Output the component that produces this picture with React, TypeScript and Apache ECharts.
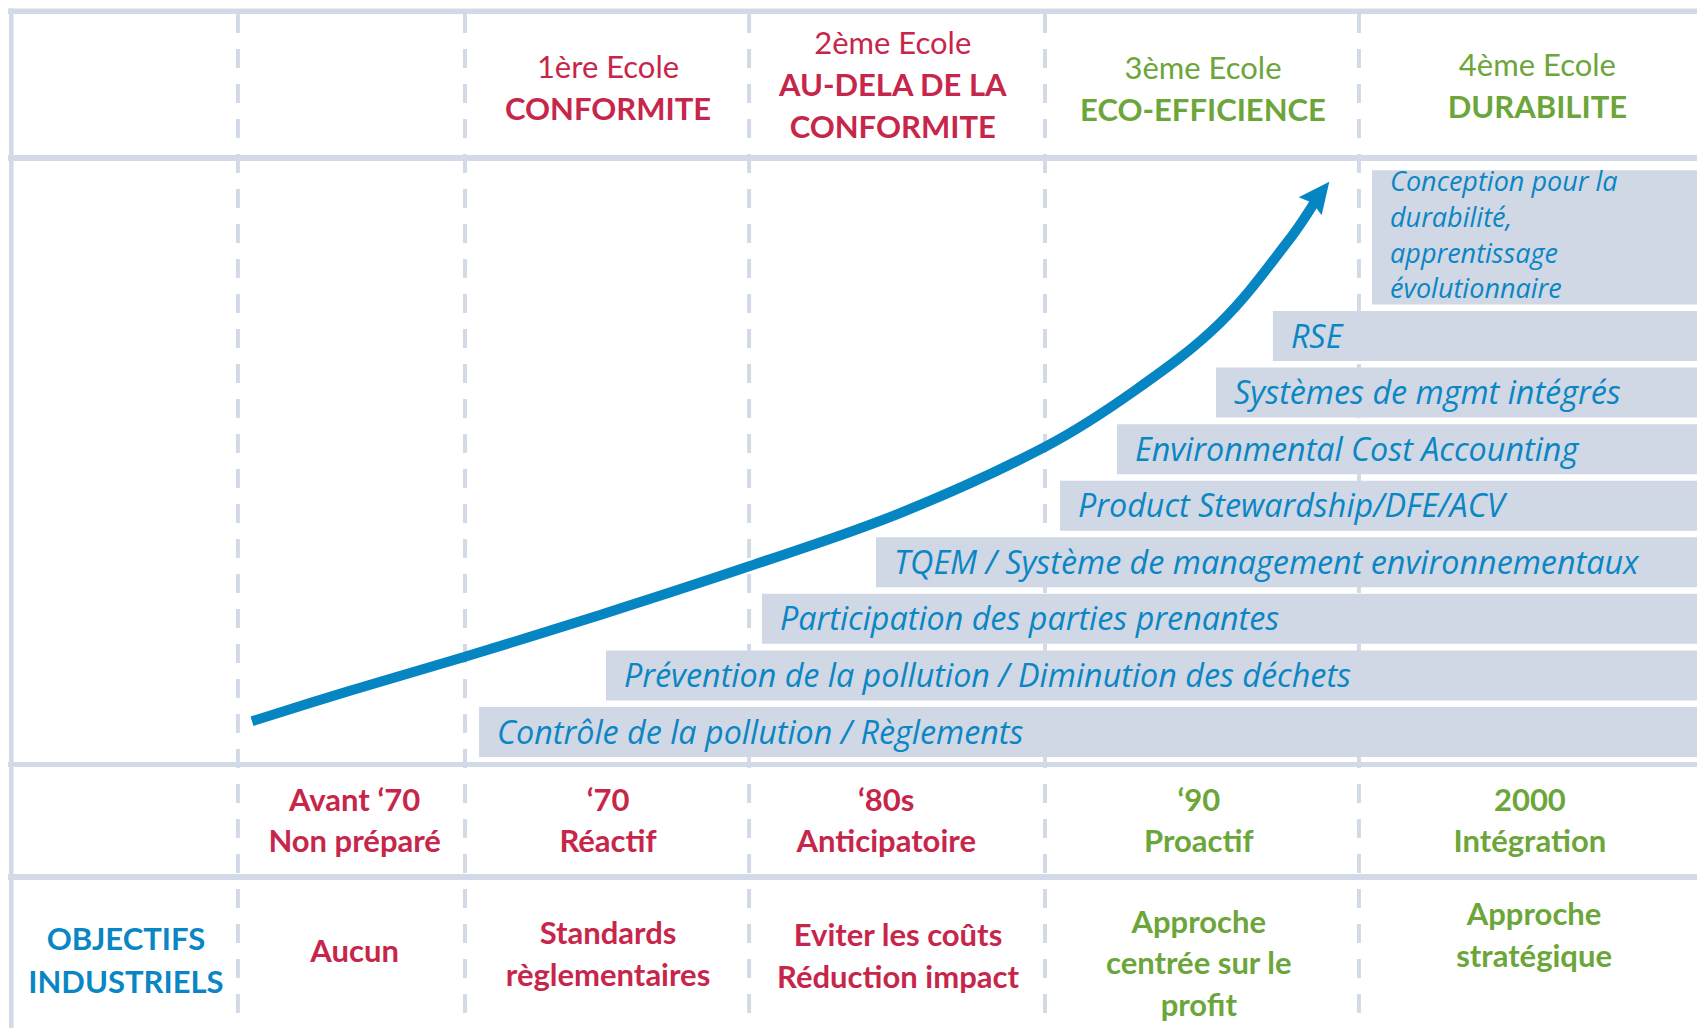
import React, { useEffect, useRef } from "react";
import * as echarts from "echarts";

// ---------------- data ----------------
const periodYears = ["Avant ‘70", "‘70", "‘80s", "‘90", "2000"];
const periodPostures = ["Non préparé", "Réactif", "Anticipatoire", "Proactif", "Intégration"];
// timeline position (0–100) where each period column starts, and where the last one ends
const periodStarts = [14.02, 27.4, 44.14, 61.58, 80.08];
const timelineEnd = 100.6;
const periodTone = ["red", "red", "red", "green", "green"];

const schoolOrdinals = ["", "1ère Ecole", "2ème Ecole", "3ème Ecole", "4ème Ecole"];
const schoolNames = ["", "CONFORMITE", "AU-DELA DE LA\nCONFORMITE", "ECO-EFFICIENCE", "DURABILITE"];

const objectivesTitle = "OBJECTIFS\nINDUSTRIELS";
const objectives = [
  "Aucun",
  "Standards\nrèglementaires",
  "Eviter les coûts\nRéduction impact",
  "Approche\ncentrée sur le\nprofit",
  "Approche\nstratégique",
];

const practices = [
  "Contrôle de la pollution / Règlements",
  "Prévention de la pollution / Diminution des déchets",
  "Participation des parties prenantes",
  "TQEM / Système de management environnementaux",
  "Product Stewardship/DFE/ACV",
  "Environmental Cost Accounting",
  "Systèmes de mgmt intégrés",
  "RSE",
  "Conception pour la\ndurabilité,\napprentissage\névolutionnaire",
];
const practiceStarts = [28.23, 35.71, 44.9, 51.62, 62.46, 65.82, 71.66, 75.01, 80.85];
const practiceLevels = [1, 2, 3, 4, 5, 6, 7, 8, 9];

const arrowX = [14.85, 20.62, 27.4, 35.36, 44.14, 53.04, 61.58, 66.94, 71.89, 75.96, 77.77];
const arrowLevel = [1.19, 1.73, 2.33, 3.07, 3.93, 4.87, 6.04, 7.05, 8.23, 9.7, 10.51];

// ---------------- layout & style ----------------
const W = 1697;
const H = 1028;
const LEVEL_PX = 56.57;
const LEVEL_MAX = 11;
const GRID_TOP = 732 - (LEVEL_MAX - 1) * LEVEL_PX;
const BAR_BAND = 50 / LEVEL_PX;

const LINE = "#D3DAE7";
const BAR_FILL = "#D0D7E5";
const RED = "#C7264B";
const GREEN = "#6CA63A";
const BLUE = "#0A86C4";
const ARROW = "#0685C3";
const FONT = "Lato, 'Open Sans', sans-serif";
const ITALIC_FONT = "'Open Sans', 'Noto Sans', sans-serif";
const FS = 31;

// per-cell text anchors (layout)
const HEADER_CY = [0, 86.5, 83.5, 88, 84.5];
const HEADER_DX = [0, 1, -4.3, 1, 4.3];
const PERIOD_CY = 819;
const PERIOD_DX = [3.2, 1, -10.8, -3.2, -3.2];
const OBJ_CY = [959, 950, 953, 955, 962, 934];
const OBJ_DX = [2, 3.2, 1, 1, -3.2, 1];
const LH = 42;

export default function App() {
  const ref = useRef<HTMLDivElement>(null);

  useEffect(() => {
    document.body.style.margin = "0";
    const chart = echarts.init(ref.current!, undefined, { renderer: "svg", width: W, height: H });

    chart.setOption({
      animation: false,
      grid: { left: 0, top: GRID_TOP, width: W, height: LEVEL_MAX * LEVEL_PX, containLabel: false },
      xAxis: { type: "value", min: 0, max: 100, show: false },
      yAxis: { type: "value", min: 0, max: LEVEL_MAX, show: false },
      series: [
        {
          type: "custom",
          z: 2,
          clip: false,
          data: practiceStarts.map((s, i) => [s, practiceLevels[i]]),
          renderItem: (params: any, api: any) => {
            const i = params.dataIndex;
            const start = api.value(0);
            const level = api.value(1);
            const [x0, yc] = api.coord([start, level]);
            const x1 = api.coord([100, level])[0];
            const bandPx = api.size([0, BAR_BAND])[1];
            const text = practices[i];
            const nLines = text.split("\n").length;
            const multi = nLines > 1;
            const clh = 35.7;
            const bottom = yc + bandPx / 2;
            const h = multi ? (nLines - 1) * clh + 27 : bandPx;
            const top = bottom - h;
            return {
              type: "group",
              children: [
                {
                  type: "rect",
                  shape: { x: x0, y: top, width: x1 - x0, height: h },
                  style: { fill: BAR_FILL },
                },
                {
                  type: "text",
                  style: {
                    text,
                    x: x0 + 18,
                    y: top + h / 2 - (multi ? 3 : 1.5),
                    align: "left",
                    verticalAlign: "middle",
                    fontFamily: ITALIC_FONT,
                    fontStyle: "italic",
                    fontSize: multi ? 27 : 32.3,
                    lineHeight: multi ? clh : LH,
                    fill: BLUE,
                  },
                },
              ],
            };
          },
        },
        {
          type: "line",
          z: 3,
          clip: false,
          smooth: 0.35,
          symbol: "none",
          showSymbol: true,
          lineStyle: { width: 10, color: ARROW, cap: "butt" },
          itemStyle: { color: ARROW },
          data: arrowX.map((x, i) =>
            i === arrowX.length - 1
              ? {
                  value: [x, arrowLevel[i]],
                  symbol: "path://M14,0L28,30L14,26L0,30Z",
                  symbolSize: [29, 31],
                  symbolRotate: -38,
                  itemStyle: { color: ARROW },
                }
              : [x, arrowLevel[i]]
          ),
        },
      ],
    });

    const px = (v: number) => chart.convertToPixel({ xAxisIndex: 0 }, v) as number;
    const bounds = [...periodStarts, timelineEnd].map(px);
    const centers = periodStarts.map((_, i) => (bounds[i] + bounds[i + 1]) / 2);

    const els: any[] = [];
    const rect = (x: number, y: number, w: number, h: number) =>
      els.push({ type: "rect", z: 0, shape: { x, y, width: w, height: h }, style: { fill: LINE } });

    const textLines = (
      cx: number,
      cy: number,
      lines: { t: string; bold: boolean }[],
      color: string,
      lh: number
    ) => {
      const n = lines.length;
      lines.forEach((ln, k) => {
        els.push({
          type: "text",
          z: 1,
          x: cx,
          y: cy + (k - (n - 1) / 2) * lh,
          style: {
            text: ln.t,
            align: "center",
            textAlign: "center",
            verticalAlign: "middle",
            textVerticalAlign: "middle",
            fontFamily: FONT,
            fontSize: FS,
            fontWeight: ln.bold ? "bold" : "normal",
            fill: color,
          },
        });
      });
    };

    // dashed column separators
    periodStarts.forEach((_, i) => {
      els.push({
        type: "line",
        z: 0,
        shape: { x1: bounds[i], y1: 14, x2: bounds[i], y2: H },
        style: { stroke: LINE, lineWidth: 4, lineDash: [19, 16] },
      });
    });

    // frame
    rect(8, 8.5, W - 8, 5.5);
    rect(9, 8.5, 4.5, H);
    rect(8, 155, W - 8, 6);
    rect(8, 762, W - 8, 5);
    rect(8, 874, W - 8, 6);

    // header: schools
    schoolOrdinals.forEach((ord, i) => {
      if (!ord) return;
      const color = periodTone[i] === "red" ? RED : GREEN;
      const lines = [{ t: ord, bold: false }, ...schoolNames[i].split("\n").map((t) => ({ t, bold: true }))];
      textLines(centers[i] + HEADER_DX[i], HEADER_CY[i], lines, color, LH);
    });

    // periods
    periodYears.forEach((y, i) => {
      const color = periodTone[i] === "red" ? RED : GREEN;
      textLines(
        centers[i] + PERIOD_DX[i],
        PERIOD_CY,
        [{ t: y, bold: true }, { t: periodPostures[i], bold: true }],
        color,
        41
      );
    });

    // objectives
    const firstColCenter = (bounds[0] + 10) / 2 + OBJ_DX[0];
    textLines(firstColCenter, OBJ_CY[0], objectivesTitle.split("\n").map((t) => ({ t, bold: true })), BLUE, 43);
    objectives.forEach((o, i) => {
      const color = periodTone[i] === "red" ? RED : GREEN;
      textLines(
        centers[i] + OBJ_DX[i + 1],
        OBJ_CY[i + 1],
        o.split("\n").map((t) => ({ t, bold: true })),
        color,
        41.5
      );
    });

    chart.setOption({ graphic: { elements: els } });

    return () => chart.dispose();
  }, []);

  return <div ref={ref} style={{ width: W, height: H }} />;
}
